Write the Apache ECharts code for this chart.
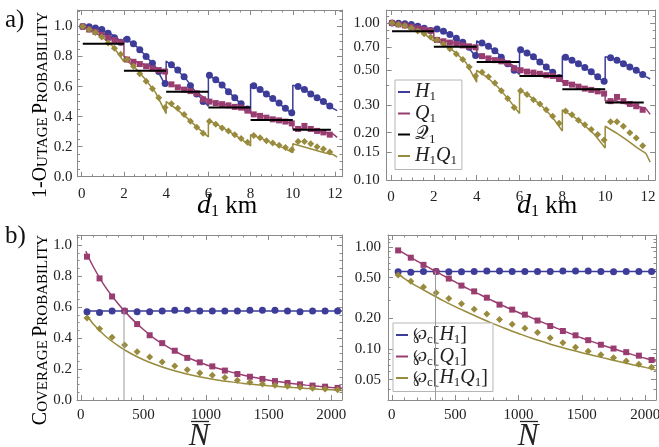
<!DOCTYPE html>
<html><head><meta charset="utf-8">
<script src="https://cdn.jsdelivr.net/npm/echarts@6/dist/echarts.min.js"></script>
<style>html,body{margin:0;padding:0;background:#fff}#c{width:659px;height:447px}</style>
</head><body><div id="c"></div><script>
// ---------- DATA: panel a) 1-outage probability vs d1 (km) ----------
const topMarkX = [0.05,0.35,0.65,0.95,1.25,1.55,1.85,2.15,2.45,2.75,3.05,3.35,3.65,3.95,4.25,4.55,4.85,5.15,5.45,5.75,6.05,6.35,6.65,6.95,7.25,7.55,7.85,8.15,8.45,8.75,9.05,9.35,9.65,9.95,10.25,10.55,10.85,11.15,11.45,11.75];
const h1Mark   = [1.0,0.998,0.99,0.98,0.955,0.925,0.895, 0.915,0.885,0.845,0.80,0.755,0.70,0.62, 0.745,0.71,0.665,0.605,0.55,0.50, 0.675,0.645,0.61,0.565,0.525,0.485,0.45, 0.605,0.58,0.55,0.52,0.49,0.455,0.425, 0.60,0.58,0.55,0.525,0.50,0.47];
const q1Mark   = [1.0,0.98,0.965,0.945,0.925,0.91,0.895, 0.78,0.765,0.75,0.735,0.72,0.71,0.70, 0.615,0.595,0.58,0.57,0.555,0.515, 0.50,0.49,0.483,0.475,0.465,0.46,0.44, 0.415,0.405,0.393,0.382,0.375,0.367,0.355, 0.318,0.338,0.318,0.305,0.295,0.28];
const h1q1Mark = [1.0,0.98,0.96,0.93,0.89,0.855,0.815, 0.78,0.735,0.685,0.635,0.585,0.525,0.46, 0.485,0.455,0.415,0.37,0.33,0.29, 0.37,0.35,0.325,0.305,0.28,0.255,0.23, 0.275,0.26,0.24,0.225,0.21,0.195,0.18, 0.235,0.235,0.22,0.2,0.185,0.165];
const topLineX = [0,0.5,1,1.5,2, 2,2.5,3,3.5,4, 4,4.5,5,5.5,6, 6,6.5,7,7.5,8, 8,8.5,9,9.5,10, 10,10.5,11,11.5,11.9,12.1];
const h1Line   = [1.0,0.995,0.975,0.94,0.89, 0.925,0.88,0.81,0.73,0.60, 0.77,0.715,0.64,0.545,0.47, 0.68,0.63,0.56,0.49,0.43, 0.615,0.575,0.525,0.47,0.415, 0.61,0.585,0.54,0.495,0.455,0.44];
const q1Line   = [1.0,0.98,0.955,0.925,0.89, 0.80,0.77,0.745,0.72,0.70, 0.625,0.60,0.58,0.555,0.51, 0.50,0.485,0.475,0.46,0.44, 0.42,0.41,0.39,0.37,0.355, 0.32,0.32,0.305,0.295,0.285,0.262];
const h1q1Line = [1.0,0.975,0.925,0.865,0.765, 0.79,0.73,0.65,0.56,0.42, 0.50,0.45,0.39,0.325,0.265, 0.375,0.34,0.30,0.255,0.205, 0.28,0.255,0.225,0.195,0.16, 0.22,0.2,0.18,0.16,0.148,0.13];
const stepStart = [0.05,2,4,6,8,10];
const stepEnd   = [2,4,6,8,10,11.8];
const stepVal   = [0.885,0.705,0.565,0.46,0.378,0.312];

// ---------- DATA: panel b) coverage probability vs N ----------
const botMarkN = [50,150,250,350,450,550,650,750,850,950,1050,1150,1250,1350,1450,1550,1650,1750,1850,1950,2050];
const pcH1Mark   = [0.57,0.565,0.575,0.575,0.57,0.57,0.575,0.58,0.58,0.575,0.575,0.575,0.575,0.58,0.58,0.58,0.575,0.57,0.575,0.575,0.575];
const pcQ1Mark   = [0.925,0.785,0.668,0.575,0.49,0.418,0.367,0.318,0.272,0.243,0.217,0.19,0.168,0.15,0.136,0.122,0.11,0.101,0.093,0.086,0.078];
const pcH1Q1Mark = [0.53,0.46,0.405,0.355,0.312,0.278,0.245,0.22,0.195,0.175,0.16,0.145,0.128,0.115,0.104,0.095,0.088,0.082,0.076,0.071,0.066];
const botLineN   = [40,100,200,300,400,500,600,700,800,900,1000,1100,1200,1300,1400,1500,1600,1700,1800,1900,2000,2085];
const pcQ1Line   = [0.96,0.86,0.725,0.62,0.53,0.455,0.39,0.34,0.295,0.258,0.228,0.203,0.18,0.16,0.143,0.128,0.116,0.105,0.096,0.088,0.081,0.076];
const pcH1Q1Line = [0.56,0.49,0.41,0.35,0.30,0.26,0.228,0.2,0.177,0.158,0.142,0.128,0.117,0.107,0.099,0.092,0.086,0.08,0.075,0.07,0.066,0.062];
const pcH1LineN  = [40,2085];
const pcH1Line   = [0.575,0.575];
const crossN = 345, crossP = 0.575;

// ---------- ticks / ranges ----------
const topXTicks    = [0,2,4,6,8,10,12];
const topLinYTicks = [0,0.2,0.4,0.6,0.8,1.0];
const topLogYTicks = [0.10,0.15,0.20,0.30,0.50,0.70,1.00];
const botXTicks    = [0,500,1000,1500,2000];
const botLinYTicks = [0,0.2,0.4,0.6,0.8,1.0];
const botLogYTicks = [0.05,0.10,0.20,0.50,1.00];
const topXRange = [-0.2,12.33], topLinYRange = [0,1.11], topLogYRange = [0.1,1.21];
const botXRange = [-30,2085], botLinYRange = [0,1.065], botLogYRange = [0.0316,1.31];

// ---------- styling ----------
const F = 'Liberation Serif';
const FRAME = '#8a8a8a';
const C_BLUE = '#3d3d99', C_PURP = '#993d71', C_OLIVE = '#998b3d';
function rng(a,b,s){const r=[];for(let v=a;v<=b+1e-9;v+=s)r.push(+v.toFixed(6));return r;}
const logMinor = [].concat(rng(0.02,0.09,0.01), rng(0.1,0.9,0.1), rng(1.0,1.3,0.1));
const L10 = v => Math.log10(v);

const grids = [
  {left:77.5, top:10, width:264.5, height:166.7},
  {left:386.7, top:10, width:268.4, height:170},
  {left:77, top:235, width:265, height:165},
  {left:388, top:235, width:268, height:165}
];
const xAxes = [], yAxes = [];
function frameSet(list, gi, pos, min, max, majors, minors, fmt, margin){
  list.push({type:'value', gridIndex:gi, position:pos, min, max,
    axisLine:{show:true, onZero:false, lineStyle:{color:FRAME,width:1}},
    axisTick:{show:true, inside:true, length:5, customValues:majors, lineStyle:{color:FRAME}},
    axisLabel: fmt ? {show:true, customValues:majors, formatter:fmt, fontFamily:F, fontSize:15, color:'#222', margin} : {show:false},
    splitLine:{show:false}});
  const main = list.length-1;
  list.push({type:'value', gridIndex:gi, position:pos, min, max,
    axisLine:{show:false, onZero:false}, axisTick:{show:true, inside:true, length:2.5, customValues:minors, lineStyle:{color:FRAME}},
    axisLabel:{show:false}, splitLine:{show:false}});
  return main;
}
const xMain = [], yData = [];
xMain[0] = frameSet(xAxes,0,'bottom',topXRange[0],topXRange[1],topXTicks,rng(0,12,0.5),v=>String(v),10);
frameSet(xAxes,0,'top',topXRange[0],topXRange[1],topXTicks,rng(0,12,0.5),null);
yData[0] = frameSet(yAxes,0,'left',topLinYRange[0],topLinYRange[1],topLinYTicks,rng(0,1.1,0.05),v=>v.toFixed(1),5);
frameSet(yAxes,0,'right',topLinYRange[0],topLinYRange[1],topLinYTicks,rng(0,1.1,0.05),null);
xMain[1] = frameSet(xAxes,1,'bottom',topXRange[0],topXRange[1],topXTicks,rng(0,12,0.5),v=>String(v),10);
frameSet(xAxes,1,'top',topXRange[0],topXRange[1],topXTicks,rng(0,12,0.5),null);
const tlMin=L10(topLogYRange[0]), tlMax=L10(topLogYRange[1]);
const tlMinor = logMinor.filter(v=>v>=topLogYRange[0]&&v<=topLogYRange[1]).map(L10);
frameSet(yAxes,1,'left',tlMin,tlMax,topLogYTicks.map(L10),tlMinor,v=>Math.pow(10,v).toFixed(2),7);
frameSet(yAxes,1,'right',tlMin,tlMax,topLogYTicks.map(L10),tlMinor,null);
yAxes.push({type:'log', gridIndex:1, min:topLogYRange[0], max:topLogYRange[1], show:false});
yData[1] = yAxes.length-1;
xMain[2] = frameSet(xAxes,2,'bottom',botXRange[0],botXRange[1],botXTicks,rng(0,2000,100),v=>String(v),8);
frameSet(xAxes,2,'top',botXRange[0],botXRange[1],botXTicks,rng(0,2000,100),null);
yData[2] = frameSet(yAxes,2,'left',botLinYRange[0],botLinYRange[1],botLinYTicks,rng(0,1.05,0.05),v=>v.toFixed(1),5);
frameSet(yAxes,2,'right',botLinYRange[0],botLinYRange[1],botLinYTicks,rng(0,1.05,0.05),null);
xMain[3] = frameSet(xAxes,3,'bottom',botXRange[0],botXRange[1],botXTicks,rng(0,2000,100),v=>String(v),8);
frameSet(xAxes,3,'top',botXRange[0],botXRange[1],botXTicks,rng(0,2000,100),null);
const blMin=L10(botLogYRange[0]), blMax=L10(botLogYRange[1]);
const blMinor = logMinor.filter(v=>v>=botLogYRange[0]&&v<=botLogYRange[1]).map(L10);
frameSet(yAxes,3,'left',blMin,blMax,botLogYTicks.map(L10),blMinor,v=>Math.pow(10,v).toFixed(2),7);
frameSet(yAxes,3,'right',blMin,blMax,botLogYTicks.map(L10),blMinor,null);
yAxes.push({type:'log', gridIndex:3, min:botLogYRange[0], max:botLogYRange[1], show:false});
yData[3] = yAxes.length-1;

const series = [];
const zip = (xs,ys)=>xs.map((x,i)=>[x,ys[i]]);
function addLine(gi,name,xs,ys,color,w,z){
  series.push({type:'line', name, xAxisIndex:xMain[gi], yAxisIndex:yData[gi], data:zip(xs,ys),
    symbol:'none', showSymbol:false, lineStyle:{color,width:w||1.5}, itemStyle:{color}, z:z||2, animation:false, clip:true});
}
function addMarks(gi,name,xs,ys,color,symbol,size){
  series.push({type:'scatter', name, xAxisIndex:xMain[gi], yAxisIndex:yData[gi], data:zip(xs,ys),
    symbol, symbolSize:size, itemStyle:{color, opacity:1}, z:3, animation:false, clip:true});
}
const stepData = [];
stepStart.forEach((s,i)=>{stepData.push([s,stepVal[i]]);stepData.push([stepEnd[i],stepVal[i]]);stepData.push([stepEnd[i],'-']);});
for (const gi of [0,1]) {
  addLine(gi,'H1',topLineX,h1Line,C_BLUE);
  addLine(gi,'Q1',topLineX,q1Line,C_PURP);
  series.push({type:'line', name:'𝒬1', xAxisIndex:xMain[gi], yAxisIndex:yData[gi], data:stepData, connectNulls:false,
    symbol:'none', showSymbol:false, lineStyle:{color:'#000',width:2}, itemStyle:{color:'#000'}, z:4, animation:false});
  addLine(gi,'H1Q1',topLineX,h1q1Line,C_OLIVE);
  addMarks(gi,'H1 sim',topMarkX,h1Mark,C_BLUE,'circle',7);
  addMarks(gi,'Q1 sim',topMarkX,q1Mark,C_PURP,'rect',6);
  addMarks(gi,'H1Q1 sim',topMarkX,h1q1Mark,C_OLIVE,'diamond',7);
}
for (const gi of [2,3]) {
  const yLow = gi===2 ? botLinYRange[0] : botLogYRange[0];
  addLine(gi,'cross',[crossN,crossN],[yLow,crossP],'#9a9a9a',1,6);
  addLine(gi,'℘c[H1]',pcH1LineN,pcH1Line,C_BLUE);
  addLine(gi,'℘c[Q1]',botLineN,pcQ1Line,C_PURP);
  addLine(gi,'℘c[H1Q1]',botLineN,pcH1Q1Line,C_OLIVE);
  series[series.length-1].smooth = 0.3; series[series.length-2].smooth = 0.3;
  addMarks(gi,'pH1 sim',botMarkN,pcH1Mark,C_BLUE,'circle',7);
  addMarks(gi,'pQ1 sim',botMarkN,pcQ1Mark,C_PURP,'rect',6);
  addMarks(gi,'pH1Q1 sim',botMarkN,pcH1Q1Mark,C_OLIVE,'diamond',7);
}

const richLeg = {
  i:{fontFamily:F, fontStyle:'italic', fontSize:20, color:'#222'},
  r:{fontFamily:F, fontSize:20, color:'#222'},
  p:{fontFamily:'DejaVu Serif', fontSize:17, color:'#222'},
  c:{fontFamily:'DejaVu Serif', fontSize:19, color:'#222'},
  s:{fontFamily:F, fontSize:13, color:'#222', padding:[10,0,0,0]}
};
const legFmt = {
  'H1':'{i|H}{s|1}', 'Q1':'{i|Q}{s|1}', '𝒬1':'{c|𝒬}{s|1}', 'H1Q1':'{i|H}{s|1}{i|Q}{s|1}',
  '℘c[H1]':'{p|℘}{s|c}{r|[}{i|H}{s|1}{r|]}', '℘c[Q1]':'{p|℘}{s|c}{r|[}{i|Q}{s|1}{r|]}', '℘c[H1Q1]':'{p|℘}{s|c}{r|[}{i|H}{s|1}{i|Q}{s|1}{r|]}'
};
const legBase = {orient:'vertical', icon:'rect', itemWidth:12, itemHeight:2, itemGap:0,
  backgroundColor:'rgba(255,255,255,0.9)', borderColor:'#b5b5b5', borderWidth:1, padding:[2,5,2,3], z:4,
  formatter:n=>legFmt[n], textStyle:{fontFamily:F, fontSize:20, color:'#222', rich:richLeg}, selectedMode:false};

const richTitle = {
  b:{fontFamily:F, fontSize:20, color:'#222', verticalAlign:'bottom'},
  s:{fontFamily:F, fontSize:15, color:'#222', verticalAlign:'bottom'}
};
const xTitleRich = {
  d:{fontFamily:F, fontStyle:'italic', fontSize:28, color:'#222'},
  s:{fontFamily:F, fontSize:16, color:'#222', padding:[12,0,0,0]},
  k:{fontFamily:F, fontSize:25, color:'#222'}
};
const graphic = [
  {type:'text', left:5, top:8, style:{text:'a)', fontFamily:F, fontSize:25, fill:'#111'}},
  {type:'text', left:5, top:224, style:{text:'b)', fontFamily:F, fontSize:25, fill:'#111'}},
  {type:'text', x:41, y:105, rotation:Math.PI/2, style:{text:'{b|1-O}{s|UTAGE} {b|P}{s|ROBABILITY}', rich:richTitle, align:'center', verticalAlign:'middle'}},
  {type:'text', x:41, y:330, rotation:Math.PI/2, style:{text:'{b|C}{s|OVERAGE} {b|P}{s|ROBABILITY}', rich:richTitle, align:'center', verticalAlign:'middle'}},
  {type:'text', x:227, y:206, style:{text:'{d|d}{s|1}{k| km}', align:'center', verticalAlign:'middle', rich:xTitleRich}},
  {type:'text', x:547, y:206, style:{text:'{d|d}{s|1}{k| km}', align:'center', verticalAlign:'middle', rich:xTitleRich}},
  {type:'text', x:199, y:437, style:{text:'N', align:'center', verticalAlign:'middle', fontFamily:F, fontStyle:'italic', fontSize:31, fill:'#222'}},
  {type:'line', shape:{x1:191, y1:421.5, x2:209, y2:421.5}, style:{stroke:'#222', lineWidth:1.3}, z:10},
  {type:'text', x:528, y:437, style:{text:'N', align:'center', verticalAlign:'middle', fontFamily:F, fontStyle:'italic', fontSize:31, fill:'#222'}},
  {type:'line', shape:{x1:520, y1:421.5, x2:538, y2:421.5}, style:{stroke:'#222', lineWidth:1.3}, z:10}
];

const chart = echarts.init(document.getElementById('c'), null, {renderer:'canvas'});
chart.setOption({
  animation:false, backgroundColor:'#fff',
  grid: grids.map(g=>Object.assign({containLabel:false, outerBoundsMode:'none'}, g)),
  xAxis: xAxes, yAxis: yAxes, series,
  legend: [
    Object.assign({}, legBase, {data:['H1','Q1','𝒬1','H1Q1'], left:395, top:80}),
    Object.assign({}, legBase, {data:['℘c[H1]','℘c[Q1]','℘c[H1Q1]'], left:393, top:323})
  ],
  graphic
});
</script></body></html>
